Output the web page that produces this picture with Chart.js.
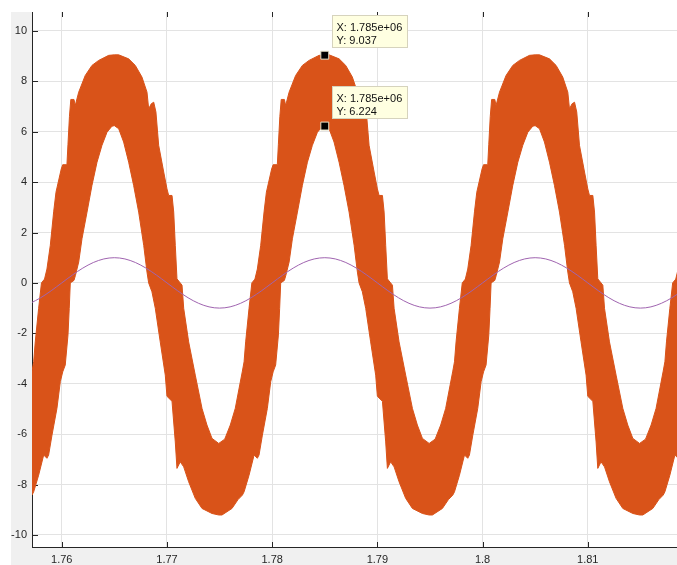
<!DOCTYPE html>
<html>
<head>
<meta charset="utf-8">
<script src="https://cdn.jsdelivr.net/npm/chart.js@4/dist/chart.umd.min.js"></script>
<style>
  html, body { margin: 0; padding: 0; background: #ffffff; }
  #plot { display: block; }
</style>
</head>
<body>
<canvas id="plot" width="677" height="565"></canvas>
<script>
// axis ticks
const xTicks = [1.76, 1.77, 1.78, 1.79, 1.8, 1.81];
const xTickLabels = ["1.76", "1.77", "1.78", "1.79", "1.8", "1.81"];
const yTicks = [-10, -8, -6, -4, -2, 0, 2, 4, 6, 8, 10];
const yTickLabels = ["-10", "-8", "-6", "-4", "-2", "0", "2", "4", "6", "8", "10"];

// upper edge of the orange band (max of the fast signal)
const upperX = [
  1.75717, 1.75733, 1.75748, 1.75780, 1.75807, 1.75836, 1.75859, 1.75891, 1.75923, 1.75945,
  1.75995, 1.76009, 1.76049, 1.76059, 1.76073, 1.76086, 1.76116, 1.76128, 1.76161, 1.76223,
  1.76287, 1.76351, 1.76446, 1.76500, 1.76541, 1.76636, 1.76699, 1.76762, 1.76810, 1.76826,
  1.76851, 1.76874, 1.76895, 1.76921, 1.76969, 1.77000, 1.77016, 1.77048, 1.77064, 1.77079,
  1.77095, 1.77126, 1.77143, 1.77159, 1.77206, 1.77269, 1.77333, 1.77380, 1.77428, 1.77492,
  1.77549, 1.77602, 1.77649,
  1.77717, 1.77733, 1.77748, 1.77780, 1.77807, 1.77836, 1.77859, 1.77891, 1.77923, 1.77945,
  1.77995, 1.78009, 1.78049, 1.78059, 1.78073, 1.78086, 1.78116, 1.78128, 1.78161, 1.78223,
  1.78287, 1.78351, 1.78446, 1.78500, 1.78541, 1.78636, 1.78699, 1.78762, 1.78810, 1.78826,
  1.78851, 1.78874, 1.78895, 1.78921, 1.78969, 1.79000, 1.79016, 1.79048, 1.79064, 1.79079,
  1.79095, 1.79126, 1.79143, 1.79159, 1.79206, 1.79269, 1.79333, 1.79380, 1.79428, 1.79492,
  1.79549, 1.79602, 1.79649,
  1.79717, 1.79733, 1.79748, 1.79780, 1.79807, 1.79836, 1.79859, 1.79891, 1.79923, 1.79945,
  1.79995, 1.80009, 1.80049, 1.80059, 1.80073, 1.80086, 1.80116, 1.80128, 1.80161, 1.80223,
  1.80287, 1.80351, 1.80446, 1.80500, 1.80541, 1.80636, 1.80699, 1.80762, 1.80810, 1.80826,
  1.80851, 1.80874, 1.80895, 1.80921, 1.80969, 1.81000, 1.81016, 1.81048, 1.81064, 1.81079,
  1.81095, 1.81126, 1.81143, 1.81159, 1.81206, 1.81269, 1.81333, 1.81380, 1.81428, 1.81492,
  1.81549, 1.81602, 1.81649,
  1.81717, 1.81733, 1.81748, 1.81780, 1.81807, 1.81836, 1.81859
];
const upperY = [
  -3.50, -3.13, -2.34, -1.01, 0.00, 0.15, 0.55, 1.49, 2.82, 3.60,
  4.52, 4.69, 4.69, 5.50, 6.60, 7.28, 7.28, 7.04, 7.57, 8.23,
  8.63, 8.83, 9.03, 9.05, 9.05, 8.89, 8.63, 8.17, 7.57, 6.91,
  7.11, 7.17, 6.78, 5.46, 4.40, 3.73, 3.47, 3.47, 2.81, 1.49,
  0.16, 0.00, -0.09, -1.01, -2.34, -3.66, -4.98, -5.64, -6.17, -6.37,
  -6.20, -5.64, -4.98,
  -3.50, -3.13, -2.34, -1.01, 0.00, 0.15, 0.55, 1.49, 2.82, 3.60,
  4.52, 4.69, 4.69, 5.50, 6.60, 7.28, 7.28, 7.04, 7.57, 8.23,
  8.63, 8.83, 9.03, 9.04, 9.05, 8.89, 8.63, 8.17, 7.57, 6.91,
  7.11, 7.17, 6.78, 5.46, 4.40, 3.73, 3.47, 3.47, 2.81, 1.49,
  0.16, 0.00, -0.09, -1.01, -2.34, -3.66, -4.98, -5.64, -6.17, -6.37,
  -6.20, -5.64, -4.98,
  -3.50, -3.13, -2.34, -1.01, 0.00, 0.15, 0.55, 1.49, 2.82, 3.60,
  4.52, 4.69, 4.69, 5.50, 6.60, 7.28, 7.28, 7.04, 7.57, 8.23,
  8.63, 8.83, 9.03, 9.05, 9.05, 8.89, 8.63, 8.17, 7.57, 6.91,
  7.11, 7.17, 6.78, 5.46, 4.40, 3.73, 3.47, 3.47, 2.81, 1.49,
  0.16, 0.00, -0.09, -1.01, -2.34, -3.66, -4.98, -5.64, -6.17, -6.37,
  -6.20, -5.64, -4.98,
  -3.50, -3.13, -2.34, -1.01, 0.00, 0.15, 0.55
];

// lower edge of the orange band (min of the fast signal)
const lowerX = [
  1.75717, 1.75733, 1.75780, 1.75828, 1.75859, 1.75875, 1.75907, 1.75954, 1.75986, 1.76009,
  1.76033, 1.76059, 1.76071, 1.76081, 1.76116, 1.76130, 1.76161, 1.76192, 1.76240, 1.76287,
  1.76335, 1.76382, 1.76430, 1.76477, 1.76500, 1.76541, 1.76588, 1.76636, 1.76683, 1.76731,
  1.76779, 1.76810, 1.76826, 1.76857, 1.76889, 1.76936, 1.76984, 1.77000, 1.77048, 1.77079,
  1.77095, 1.77126, 1.77159, 1.77206, 1.77269, 1.77333, 1.77428, 1.77492, 1.77523, 1.77618,
  1.77675,
  1.77717, 1.77733, 1.77780, 1.77828, 1.77859, 1.77875, 1.77907, 1.77954, 1.77986, 1.78009,
  1.78033, 1.78059, 1.78071, 1.78081, 1.78116, 1.78130, 1.78161, 1.78192, 1.78240, 1.78287,
  1.78335, 1.78382, 1.78430, 1.78477, 1.78500, 1.78541, 1.78588, 1.78636, 1.78683, 1.78731,
  1.78779, 1.78810, 1.78826, 1.78857, 1.78889, 1.78936, 1.78984, 1.79000, 1.79048, 1.79079,
  1.79095, 1.79126, 1.79159, 1.79206, 1.79269, 1.79333, 1.79428, 1.79492, 1.79523, 1.79618,
  1.79675,
  1.79717, 1.79733, 1.79780, 1.79828, 1.79859, 1.79875, 1.79907, 1.79954, 1.79986, 1.80009,
  1.80033, 1.80059, 1.80071, 1.80081, 1.80116, 1.80130, 1.80161, 1.80192, 1.80240, 1.80287,
  1.80335, 1.80382, 1.80430, 1.80477, 1.80500, 1.80541, 1.80588, 1.80636, 1.80683, 1.80731,
  1.80779, 1.80810, 1.80826, 1.80857, 1.80889, 1.80936, 1.80984, 1.81000, 1.81048, 1.81079,
  1.81095, 1.81126, 1.81159, 1.81206, 1.81269, 1.81333, 1.81428, 1.81492, 1.81523, 1.81618,
  1.81675,
  1.81717, 1.81733, 1.81780, 1.81828, 1.81859
];
const lowerY = [
  -8.42, -8.29, -7.63, -6.83, -6.96, -6.83, -6.04, -4.98, -3.92, -3.53,
  -3.26, -2.07, -1.01, 0.00, 0.10, 0.30, 0.83, 1.75, 2.81, 3.87,
  4.79, 5.46, 5.98, 6.22, 6.24, 6.12, 5.59, 4.79, 3.87, 2.81,
  1.49, 0.43, 0.00, -0.35, -1.01, -2.34, -3.66, -4.50, -4.70, -6.31,
  -7.36, -7.10, -7.30, -7.89, -8.55, -8.95, -9.15, -9.21, -9.21, -8.95,
  -8.60,
  -8.42, -8.29, -7.63, -6.83, -6.96, -6.83, -6.04, -4.98, -3.92, -3.53,
  -3.26, -2.07, -1.01, 0.00, 0.10, 0.30, 0.83, 1.75, 2.81, 3.87,
  4.79, 5.46, 5.98, 6.21, 6.22, 6.12, 5.59, 4.79, 3.87, 2.81,
  1.49, 0.43, 0.00, -0.35, -1.01, -2.34, -3.66, -4.50, -4.70, -6.31,
  -7.36, -7.10, -7.30, -7.89, -8.55, -8.95, -9.15, -9.21, -9.21, -8.95,
  -8.60,
  -8.42, -8.29, -7.63, -6.83, -6.96, -6.83, -6.04, -4.98, -3.92, -3.53,
  -3.26, -2.07, -1.01, 0.00, 0.10, 0.30, 0.83, 1.75, 2.81, 3.87,
  4.79, 5.46, 5.98, 6.22, 6.24, 6.12, 5.59, 4.79, 3.87, 2.81,
  1.49, 0.43, 0.00, -0.35, -1.01, -2.34, -3.66, -4.50, -4.70, -6.31,
  -7.36, -7.10, -7.30, -7.89, -8.55, -8.95, -9.15, -9.21, -9.21, -8.95,
  -8.60,
  -8.42, -8.29, -7.63, -6.83, -6.96
];

// reference sine (purple)
const refX = [
  1.757, 1.758, 1.759, 1.760, 1.761, 1.762, 1.763, 1.764, 1.765, 1.766,
  1.767, 1.768, 1.769, 1.770, 1.771, 1.772, 1.773, 1.774, 1.775, 1.776,
  1.777, 1.778, 1.779, 1.780, 1.781, 1.782, 1.783, 1.784, 1.785, 1.786,
  1.787, 1.788, 1.789, 1.790, 1.791, 1.792, 1.793, 1.794, 1.795, 1.796,
  1.797, 1.798, 1.799, 1.800, 1.801, 1.802, 1.803, 1.804, 1.805, 1.806,
  1.807, 1.808, 1.809, 1.810, 1.811, 1.812, 1.813, 1.814, 1.815, 1.816,
  1.817, 1.818, 1.819
];
const refY = [
  -0.809, -0.588, -0.309, 0, 0.309, 0.588, 0.809, 0.951, 1, 0.951,
  0.809, 0.588, 0.309, 0, -0.309, -0.588, -0.809, -0.951, -1, -0.951,
  -0.809, -0.588, -0.309, 0, 0.309, 0.588, 0.809, 0.951, 1, 0.951,
  0.809, 0.588, 0.309, 0, -0.309, -0.588, -0.809, -0.951, -1, -0.951,
  -0.809, -0.588, -0.309, 0, 0.309, 0.588, 0.809, 0.951, 1, 0.951,
  0.809, 0.588, 0.309, 0, -0.309, -0.588, -0.809, -0.951, -1, -0.951,
  -0.809, -0.588, -0.309
];

// data tips
const tipX = [1.785, 1.785];
const tipY = [9.037, 6.224];
const tipLines = [
  ["X: 1.785e+06", "Y: 9.037"],
  ["X: 1.785e+06", "Y: 6.224"]
];

const toPoints = (xs, ys) => xs.map((x, i) => ({ x, y: ys[i] }));

const FONT = '"Liberation Sans", Arial, Helvetica, sans-serif';
const AXIS_COLOR = "#262626";
const ORANGE = "#D95319";

const figurePlugin = {
  id: "figure",
  beforeDraw(chart) {
    const { ctx, chartArea: a, width, height } = chart;
    ctx.save();
    ctx.fillStyle = "#ffffff";
    ctx.fillRect(0, 0, width, height);
    ctx.fillStyle = "#f0f0f0";
    ctx.fillRect(a.left - 21, a.top, width - a.left + 21, height - a.top);
    ctx.fillStyle = "#ffffff";
    ctx.fillRect(a.left, a.top, a.right - a.left, a.bottom - a.top);
    ctx.restore();
  },
  beforeDatasetsDraw(chart) {
    // matlab style ticks, pointing inside the axes
    const { ctx, chartArea: a, scales } = chart;
    ctx.save();
    ctx.strokeStyle = AXIS_COLOR;
    ctx.lineWidth = 1;
    ctx.beginPath();
    xTicks.forEach((v) => {
      const px = Math.round(scales.x.getPixelForValue(v)) + 0.5;
      ctx.moveTo(px, a.bottom);
      ctx.lineTo(px, a.bottom - 5);
      ctx.moveTo(px, a.top);
      ctx.lineTo(px, a.top + 5);
    });
    yTicks.forEach((v) => {
      const py = Math.round(scales.y.getPixelForValue(v)) + 0.5;
      ctx.moveTo(a.left, py);
      ctx.lineTo(a.left + 6, py);
    });
    ctx.stroke();
    ctx.restore();
  },
  afterDraw(chart) {
    const { ctx, scales } = chart;
    ctx.save();
    ctx.font = "11px " + FONT;
    ctx.textBaseline = "alphabetic";
    tipX.forEach((v, i) => {
      const px = scales.x.getPixelForValue(v);
      const py = scales.y.getPixelForValue(tipY[i]);
      const lines = tipLines[i];
      const w = Math.ceil(Math.max(...lines.map((t) => ctx.measureText(t).width))) + 9;
      const h = 32;
      const left = Math.round(px + 7) + 0.5;
      const top = Math.round(py - 8 - h) + 0.5;
      ctx.fillStyle = "#ffffe1";
      ctx.fillRect(left, top, w, h);
      ctx.strokeStyle = "#d6d3bd";
      ctx.lineWidth = 1;
      ctx.strokeRect(left, top, w, h);
      ctx.fillStyle = "#111111";
      lines.forEach((t, j) => ctx.fillText(t, left + 4, top + 15.5 + j * 13));
    });
    ctx.restore();
  }
};

new Chart(document.getElementById("plot"), {
  type: "scatter",
  data: {
    datasets: [
      {
        label: "tips",
        data: toPoints(tipX, tipY),
        pointStyle: "rect",
        pointRadius: 5.6,
        backgroundColor: "#000000",
        borderColor: "#e8e2c8",
        borderWidth: 1,
        showLine: false,
        clip: false
      },
      {
        label: "reference",
        data: toPoints(refX, refY),
        showLine: true,
        borderColor: "#a064b0",
        borderWidth: 1,
        pointRadius: 0,
        cubicInterpolationMode: "monotone",
        fill: false
      },
      {
        label: "upper",
        data: toPoints(upperX, upperY),
        showLine: true,
        borderColor: ORANGE,
        backgroundColor: ORANGE,
        borderWidth: 1,
        pointRadius: 0,
        fill: "+1"
      },
      {
        label: "lower",
        data: toPoints(lowerX, lowerY),
        showLine: true,
        borderColor: ORANGE,
        borderWidth: 1,
        pointRadius: 0,
        fill: false
      }
    ]
  },
  options: {
    responsive: false,
    animation: false,
    devicePixelRatio: 1,
    layout: { autoPadding: false, padding: { top: 12, right: 0, left: 0, bottom: 0 } },
    plugins: {
      legend: { display: false },
      tooltip: { enabled: false }
    },
    scales: {
      x: {
        type: "linear",
        min: 1.75717,
        max: 1.81848,
        afterBuildTicks: (s) => { s.ticks = xTicks.map((v) => ({ value: v })); },
        afterFit: (s) => { s.height = 18; },
        grid: { color: "#e3e3e3", drawTicks: false },
        border: { color: AXIS_COLOR },
        ticks: {
          callback: (v, i) => xTickLabels[i],
          autoSkip: false,
          maxRotation: 0,
          padding: 6,
          color: AXIS_COLOR,
          font: { family: FONT, size: 11 }
        }
      },
      y: {
        type: "linear",
        min: -10.48,
        max: 10.75,
        afterBuildTicks: (s) => { s.ticks = yTicks.map((v) => ({ value: v })); },
        afterFit: (s) => { s.width = 32; },
        grid: { color: "#e3e3e3", drawTicks: false },
        border: { color: AXIS_COLOR },
        ticks: {
          callback: (v, i) => yTickLabels[i],
          autoSkip: false,
          padding: 5,
          color: AXIS_COLOR,
          font: { family: FONT, size: 11 }
        }
      }
    }
  },
  plugins: [figurePlugin]
});
</script>
</body>
</html>
